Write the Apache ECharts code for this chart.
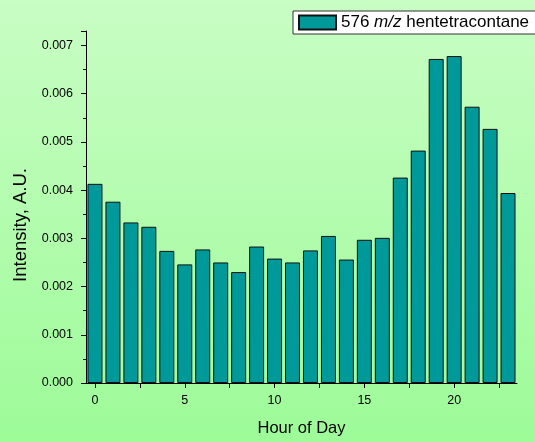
<!DOCTYPE html>
<html>
<head>
<meta charset="utf-8">
<script src="https://cdn.jsdelivr.net/npm/echarts@6/dist/echarts.min.js"></script>
<style>
  html, body { margin: 0; padding: 0; }
  #chart { width: 535px; height: 442px; }
</style>
</head>
<body>
<div id="chart"></div>
<script>
// hourly intensity of 576 m/z hentetracontane
const hours = [0, 1, 2, 3, 4, 5, 6, 7, 8, 9, 10, 11, 12, 13, 14, 15, 16, 17, 18, 19, 20, 21, 22, 23];
const intensity = [
  0.00413, 0.00376, 0.00333, 0.00324, 0.00274, 0.00246, 0.00277, 0.00250,
  0.00230, 0.00283, 0.00258, 0.00250, 0.00275, 0.00305, 0.00256, 0.00297,
  0.00301, 0.00426, 0.00482, 0.00672, 0.00678, 0.00573, 0.00527, 0.00394
];
const xLabelValues = [0, 5, 10, 15, 20];
const xTickValues = [0, 2.5, 5, 7.5, 10, 12.5, 15, 17.5, 20, 22.5];
const seriesName = '576 m/z hentetracontane';

const chart = echarts.init(document.getElementById('chart'));
const font = 'Liberation Sans, Arial, sans-serif';
const black = '#000';

chart.setOption({
  backgroundColor: {
    type: 'linear', x: 0, y: 0, x2: 0, y2: 1,
    colorStops: [
      { offset: 0, color: '#c8fdc4' },
      { offset: 1, color: '#9dfb98' },
    ],
  },
  animation: false,
  textStyle: { fontFamily: font },
  legend: {
    left: 293,
    top: 11,
    padding: [3, 20, 3, 5],
    backgroundColor: '#fff',
    borderColor: '#333',
    borderWidth: 1,
    borderRadius: 0,
    icon: 'rect',
    itemWidth: 37,
    itemHeight: 14,
    itemGap: 5,
    data: [seriesName],
    formatter: () => '576 {i|m/z} hentetracontane',
    textStyle: {
      fontSize: 17,
      color: black,
      rich: { i: { fontSize: 17, fontStyle: 'italic', color: black } },
    },
  },
  grid: { left: 86, right: 18, top: 31, bottom: 53 },
  xAxis: {
    type: 'value',
    min: -0.5,
    max: 23.5,
    name: 'Hour of Day',
    nameLocation: 'middle',
    nameGap: 37,
    nameTextStyle: { fontSize: 16.5, color: black },
    axisLine: { show: true, onZero: false, lineStyle: { color: black, width: 1 } },
    axisTick: { show: true, length: 5, customValues: xTickValues, lineStyle: { color: black } },
    axisLabel: { customValues: xLabelValues, fontSize: 12.5, color: black, margin: 11 },
    splitLine: { show: false },
  },
  yAxis: {
    type: 'value',
    min: 0,
    max: 0.0073,
    interval: 0.001,
    name: 'Intensity, A.U.',
    nameLocation: 'middle',
    nameGap: 55,
    nameTextStyle: { fontSize: 18.5, color: black, padding: [0, 0, 0, -36] },
    axisLine: { show: true, onZero: false, lineStyle: { color: black, width: 1 } },
    axisTick: { show: true, length: 5, lineStyle: { color: black } },
    minorTick: { show: true, splitNumber: 2, length: 3, lineStyle: { color: black } },
    axisLabel: {
      fontSize: 12.5,
      color: black,
      margin: 13,
      showMaxLabel: false,
      formatter: (v) => v.toFixed(3),
    },
    splitLine: { show: false },
  },
  series: [{
    name: seriesName,
    type: 'bar',
    barWidth: 15,
    itemStyle: { color: '#009999', borderColor: '#111', borderWidth: 1 },
    data: hours.map((h, i) => [h, intensity[i]]),
  }],
});
</script>
</body>
</html>
